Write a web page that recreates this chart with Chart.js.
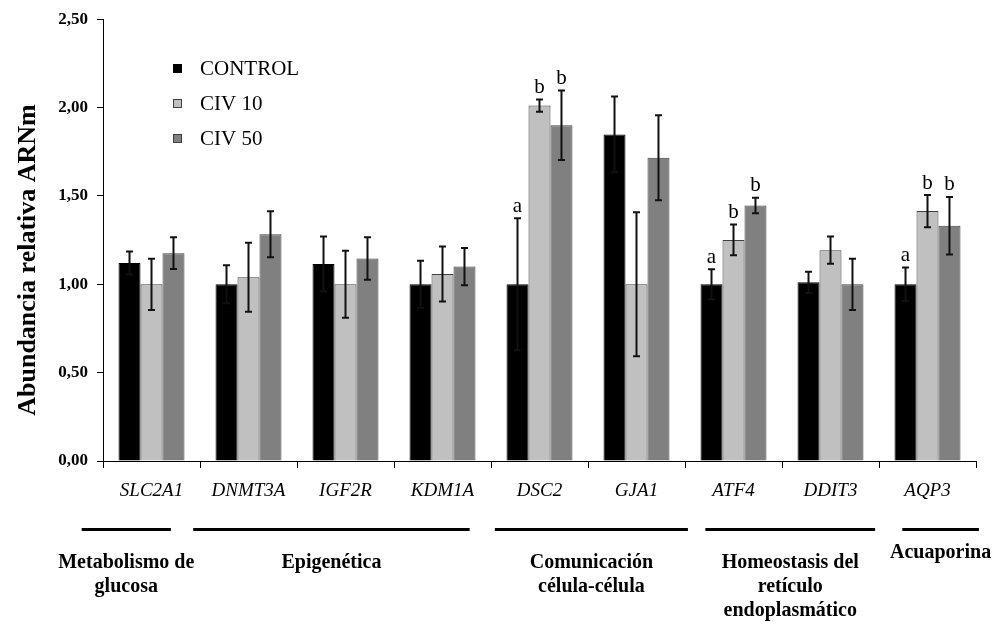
<!DOCTYPE html>
<html>
<head>
<meta charset="utf-8">
<script src="https://cdn.jsdelivr.net/npm/chart.js"></script>
<style>
  html, body { margin: 0; padding: 0; background: #fff; }
  #wrap { width: 1008px; height: 625px; position: relative; }
</style>
</head>
<body>
<div id="wrap"><canvas id="geneChart"></canvas></div>
<script>
const categories = ['SLC2A1', 'DNMT3A', 'IGF2R', 'KDM1A', 'DSC2', 'GJA1', 'ATF4', 'DDIT3', 'AQP3'];
const seriesNames = ['CONTROL', 'CIV 10', 'CIV 50'];

const control = [1.12, 1.00, 1.115, 1.00, 1.00, 1.848, 1.00, 1.011, 1.00];
const controlErr = [0.065, 0.107, 0.155, 0.133, 0.373, 0.214, 0.085, 0.06, 0.095];
const civ10 = [1.00, 1.04, 1.00, 1.058, 2.011, 1.00, 1.251, 1.193, 1.414];
const civ10Err = [0.145, 0.195, 0.19, 0.156, 0.035, 0.407, 0.087, 0.077, 0.091];
const civ50 = [1.176, 1.283, 1.146, 1.10, 1.90, 1.716, 1.446, 1.00, 1.331];
const civ50Err = [0.09, 0.13, 0.12, 0.105, 0.197, 0.24, 0.044, 0.145, 0.163];

const controlLetters = ['', '', '', '', 'a', '', 'a', '', 'a'];
const civ10Letters = ['', '', '', '', 'b', '', 'b', '', 'b'];
const civ50Letters = ['', '', '', '', 'b', '', 'b', '', 'b'];

const yTicks = [0, 0.5, 1, 1.5, 2, 2.5];

const groupNames = [
  ['Metabolismo de', 'glucosa'],
  ['Epigenética'],
  ['Comunicación', 'célula-célula'],
  ['Homeostasis del', 'retículo', 'endoplasmático'],
  ['Acuaporina']
];
const groupFirst = [0, 1, 4, 6, 8];
const groupLast = [0, 3, 5, 7, 8];

// layout only: where the group rules start/end relative to first/last category centre
const groupRuleOffsets = [[-0.72, 0.2], [-0.57, 0.28], [-0.46, 0.53], [-0.29, 0.46], [-0.26, 0.53]];
const groupLabelShift = [0, 0, 0, 0, -10];

const SERIF = "'Liberation Serif', 'Times New Roman', serif";
Chart.defaults.font.family = SERIF;
Chart.defaults.color = '#000';

const extras = {
  id: 'extras',
  afterDatasetsDraw(chart) {
    const ctx = chart.ctx;
    const y = chart.scales.y;
    const x = chart.scales.x;

    // error bars + significance letters
    chart.data.datasets.forEach((ds, i) => {
      const meta = chart.getDatasetMeta(i);
      meta.data.forEach((bar, j) => {
        const v = ds.data[j];
        const e = ds.errors[j];
        const top = y.getPixelForValue(v + e);
        const bot = y.getPixelForValue(v - e);
        ctx.save();
        ctx.strokeStyle = '#111';
        ctx.lineWidth = 2;
        ctx.beginPath();
        ctx.moveTo(bar.x, top);
        ctx.lineTo(bar.x, bot);
        ctx.moveTo(bar.x - 3.5, top);
        ctx.lineTo(bar.x + 3.5, top);
        ctx.moveTo(bar.x - 3.5, bot);
        ctx.lineTo(bar.x + 3.5, bot);
        ctx.stroke();
        if (ds.letters[j]) {
          ctx.fillStyle = '#000';
          ctx.font = '21px ' + SERIF;
          ctx.textAlign = 'center';
          ctx.textBaseline = 'middle';
          ctx.fillText(ds.letters[j], bar.x, top - 12);
        }
        ctx.restore();
      });
    });

    // legend
    ctx.save();
    chart.data.datasets.forEach((ds, i) => {
      const ly = 69 + i * 35;
      ctx.fillStyle = ds.backgroundColor;
      ctx.fillRect(173, ly - 5, 9, 9);
      ctx.strokeStyle = ds.borderColor;
      ctx.lineWidth = 1;
      ctx.strokeRect(173.5, ly - 4.5, 8, 8);
      ctx.fillStyle = '#000';
      ctx.font = '21px ' + SERIF;
      ctx.textAlign = 'left';
      ctx.textBaseline = 'middle';
      ctx.fillText(ds.label, 200, ly);
    });

    // y title
    ctx.translate(28, 260);
    ctx.rotate(-Math.PI / 2);
    ctx.font = 'bold 26px ' + SERIF;
    ctx.textAlign = 'center';
    ctx.textBaseline = 'middle';
    ctx.fillText('Abundancia relativa ARNm', 0, 0);
    ctx.restore();

    // group rules and labels
    ctx.save();
    groupNames.forEach((lines, g) => {
      const x1 = x.getPixelForValue(groupFirst[g] + groupRuleOffsets[g][0]);
      const x2 = x.getPixelForValue(groupLast[g] + groupRuleOffsets[g][1]);
      ctx.fillStyle = '#000';
      ctx.fillRect(x1, 528, x2 - x1, 3);
      ctx.font = 'bold 20px ' + SERIF;
      ctx.textAlign = 'center';
      ctx.textBaseline = 'middle';
      lines.forEach((t, k) => {
        ctx.fillText(t, (x1 + x2) / 2, 563 + groupLabelShift[g] + k * 24);
      });
    });
    ctx.restore();
  }
};

new Chart(document.getElementById('geneChart'), {
  type: 'bar',
  data: {
    labels: categories,
    datasets: [
      { label: seriesNames[0], data: control, errors: controlErr, letters: controlLetters,
        backgroundColor: '#000000', borderColor: '#000000', borderWidth: 1 },
      { label: seriesNames[1], data: civ10, errors: civ10Err, letters: civ10Letters,
        backgroundColor: '#c0c0c0', borderColor: '#404040', borderWidth: 1 },
      { label: seriesNames[2], data: civ50, errors: civ50Err, letters: civ50Letters,
        backgroundColor: '#808080', borderColor: '#404040', borderWidth: 1 }
    ]
  },
  options: {
    responsive: true,
    maintainAspectRatio: false,
    animation: false,
    layout: { padding: { top: 17, right: 32, left: 0, bottom: 0 } },
    datasets: { bar: { categoryPercentage: 0.68, barPercentage: 1.0 } },
    plugins: {
      legend: { display: false },
      tooltip: { enabled: false }
    },
    scales: {
      x: {
        afterFit(s) { s.height = 164; },
        border: { display: true, color: '#000', width: 1 },
        grid: { display: true, drawOnChartArea: false, color: '#000', tickLength: 7, offset: true },
        ticks: { font: { size: 19, style: 'italic' }, padding: 12, color: '#000', maxRotation: 0 }
      },
      y: {
        min: 0,
        max: 2.5,
        afterFit(s) { s.width = 103; },
        afterBuildTicks(s) { s.ticks = yTicks.map(v => ({ value: v })); },
        border: { display: true, color: '#000', width: 1 },
        grid: { display: true, drawOnChartArea: false, color: '#000', tickLength: 6 },
        ticks: {
          font: { size: 17, weight: 'bold' },
          padding: 9,
          color: '#000',
          callback: v => v.toFixed(2).replace('.', ',')
        }
      }
    }
  },
  plugins: [extras]
});
</script>
</body>
</html>
